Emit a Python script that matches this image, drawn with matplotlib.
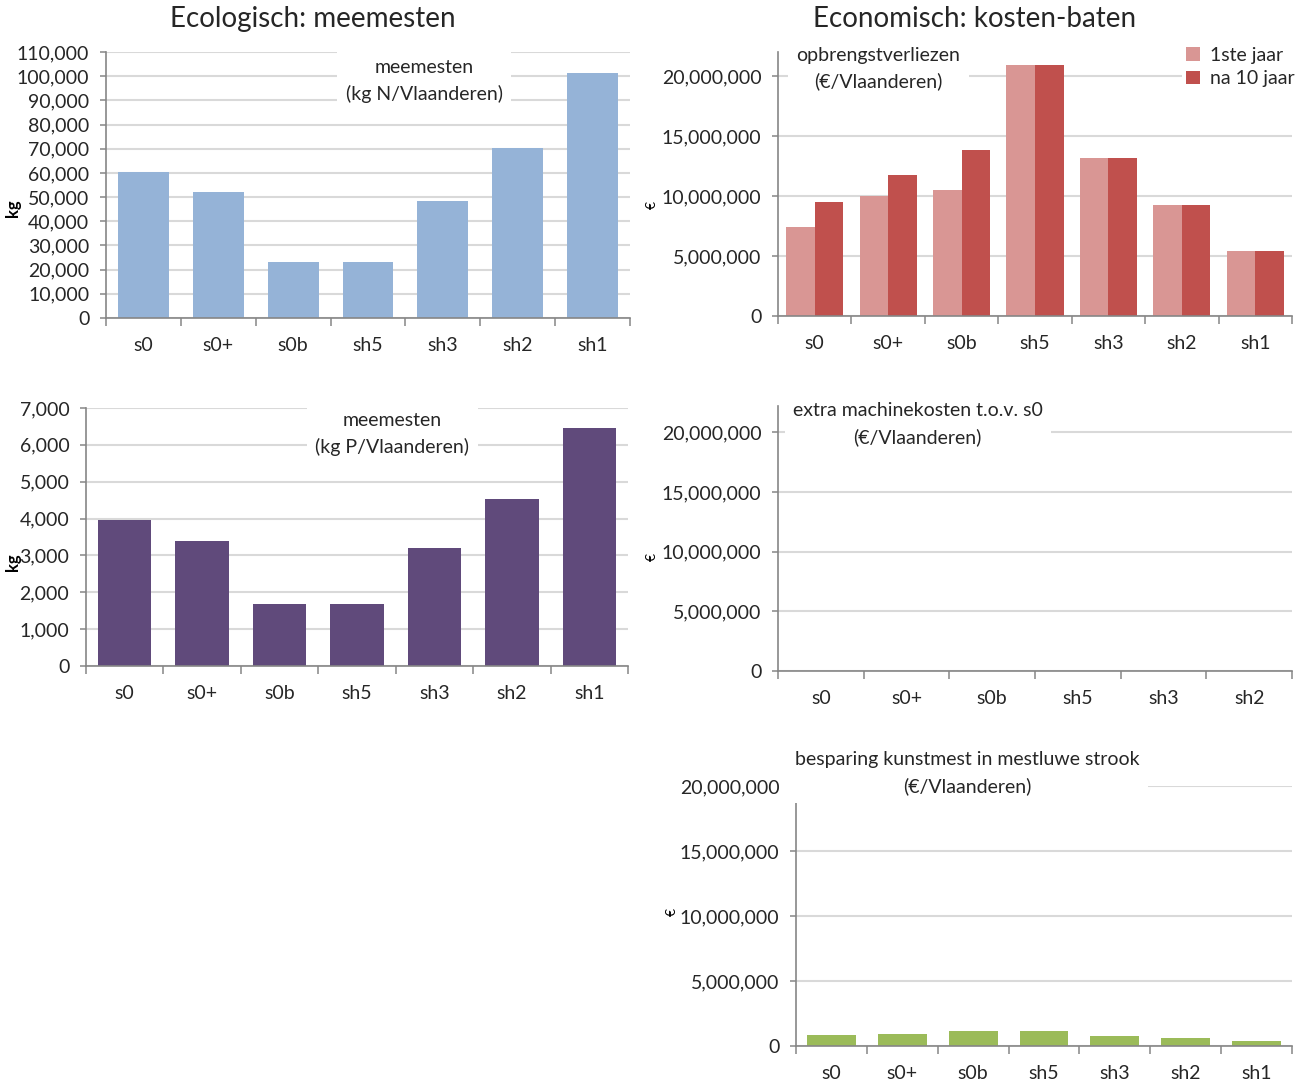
import matplotlib.pyplot as plt
from matplotlib.ticker import FuncFormatter, FixedLocator
import numpy as np

plt.rcParams["font.family"] = ["Lato", "DejaVu Sans"]

SCENARIOS = ["s0", "s0+", "s0b", "sh5", "sh3", "sh2", "sh1"]

# Ecologisch
n_meemesten = [60500, 52000, 23300, 23300, 48500, 70500, 101500]   # kg N
p_meemesten = [3950, 3400, 1680, 1680, 3200, 4520, 6470]            # kg P

# Economisch
loss_year1 = [7.42e6, 10.0e6, 10.5e6, 20.9e6, 13.17e6, 9.27e6, 5.42e6]
loss_year10 = [9.5e6, 11.75e6, 13.85e6, 20.9e6, 13.17e6, 9.27e6, 5.42e6]
machine_scen = ["s0", "s0+", "s0b", "sh5", "sh3", "sh2"]
machine_costs = [0, 0, 0, 0, 0, 0]
fert_saving = [0.85e6, 0.9e6, 1.13e6, 1.13e6, 0.77e6, 0.6e6, 0.38e6]

SPINE = "#868686"
GRID = "#D9D9D9"
TXT = "#262626"
FS = 14

W, H = 1304, 1085
fig = plt.figure(figsize=(W / 100, H / 100), dpi=100)


def axes_px(left, right, bottom, top):
    # pixel box -> figure fraction
    return fig.add_axes([left / W, 1 - bottom / H, (right - left) / W, (bottom - top) / H])


def style(ax, cats, ymax, step, ytop=None):
    n = len(cats)
    ax.set_xlim(-0.5, n - 0.5)
    ax.set_ylim(0, ymax)
    ytop = ymax if ytop is None else ytop
    ax.yaxis.set_major_locator(FixedLocator(np.arange(0, ytop + 1, step)))
    ax.yaxis.set_major_formatter(FuncFormatter(lambda v, p: f"{v:,.0f}"))
    ax.xaxis.set_major_locator(FixedLocator(np.arange(-0.5, n, 1)))
    ax.xaxis.set_minor_locator(FixedLocator(np.arange(n)))
    ax.set_xticklabels([])
    ax.set_xticklabels(cats, minor=True)
    ax.tick_params(axis="x", which="major", direction="out", length=6, width=1.1, color=SPINE)
    ax.tick_params(axis="x", which="minor", length=0, pad=14, labelsize=FS, labelcolor=TXT)
    ax.tick_params(axis="y", direction="out", length=4, width=1.1, color=SPINE,
                   pad=8, labelsize=FS, labelcolor=TXT)
    for side in ("top", "right"):
        ax.spines[side].set_visible(False)
    for side in ("left", "bottom"):
        ax.spines[side].set_color(SPINE)
        ax.spines[side].set_linewidth(1.2)
    ax.grid(axis="y", color=GRID, linewidth=1.5)
    ax.set_axisbelow(True)


def chart_title(ax, x, y, text):
    ax.text(x, y, text, transform=ax.transAxes, ha="center", va="top", fontsize=FS,
            color=TXT, linespacing=1.6, zorder=10, clip_on=False,
            bbox=dict(facecolor="white", edgecolor="none", pad=6))


x7 = np.arange(len(SCENARIOS))

# --- meemesten N ---
ax1 = axes_px(106, 630, 318, 52)
style(ax1, SCENARIOS, 110000, 10000)
ax1.bar(x7, n_meemesten, width=0.68, color="#95B3D7")
chart_title(ax1, 0.607, 0.975, "meemesten\n(kg N/Vlaanderen)")

# --- meemesten P ---
ax3 = axes_px(86, 628, 666, 408)
style(ax3, SCENARIOS, 7000, 1000)
ax3.bar(x7, p_meemesten, width=0.69, color="#604A7B")
chart_title(ax3, 0.565, 0.985, "meemesten\n(kg P/Vlaanderen)")

# --- opbrengstverliezen ---
ax2 = axes_px(778, 1292, 316, 52)
style(ax2, SCENARIOS, 22e6, 5e6, ytop=20e6)
bw = 0.39
ax2.bar(x7 - bw / 2, loss_year1, width=bw, color="#D99694", label="1ste jaar")
ax2.bar(x7 + bw / 2, loss_year10, width=bw, color="#C0504D", label="na 10 jaar")
chart_title(ax2, 0.195, 1.02, "opbrengstverliezen\n(€/Vlaanderen)")
leg = ax2.legend(loc="upper right", bbox_to_anchor=(1.012, 1.035), frameon=True, fontsize=FS,
                 handlelength=0.7, handleheight=0.7, handletextpad=0.5,
                 borderpad=0.2, labelspacing=0.35, borderaxespad=0.0)
leg.get_frame().set_edgecolor("none")
leg.get_frame().set_facecolor("white")
leg.get_frame().set_alpha(1)
for t in leg.get_texts():
    t.set_color(TXT)

# --- extra machinekosten ---
ax4 = axes_px(778, 1292, 671, 406)
style(ax4, machine_scen, 22.2e6, 5e6, ytop=20e6)
ax4.bar(np.arange(len(machine_scen)), machine_costs, width=0.7, color="#4F81BD")
chart_title(ax4, 0.272, 1.015, "extra machinekosten t.o.v. s0\n(€/Vlaanderen)")

# --- besparing kunstmest ---
ax5 = axes_px(796, 1292, 1046, 786)
style(ax5, SCENARIOS, 20e6, 5e6)
ax5.bar(x7, fert_saving, width=0.69, color="#9BBB59")
chart_title(ax5, 0.345, 1.135, "besparing kunstmest in mestluwe strook\n(€/Vlaanderen)")

# axis unit labels
for y in (208, 562):
    fig.text(13 / W, 1 - y / H, "kg", rotation=90, ha="center", va="center",
             fontsize=12, fontweight="bold", color="black")
for y, x in ((205, 652), (557, 652), (912, 672)):
    fig.text(x / W, 1 - y / H, "€", rotation=90, ha="center", va="center",
             fontsize=10, color="black")

# section headers
fig.text(313 / W, 1 - 19 / H, "Ecologisch: meemesten", ha="center", va="center",
         fontsize=20, color=TXT)
fig.text(975 / W, 1 - 19 / H, "Economisch: kosten-baten", ha="center", va="center",
         fontsize=20, color=TXT)

fig.savefig("out.png", dpi=100)
